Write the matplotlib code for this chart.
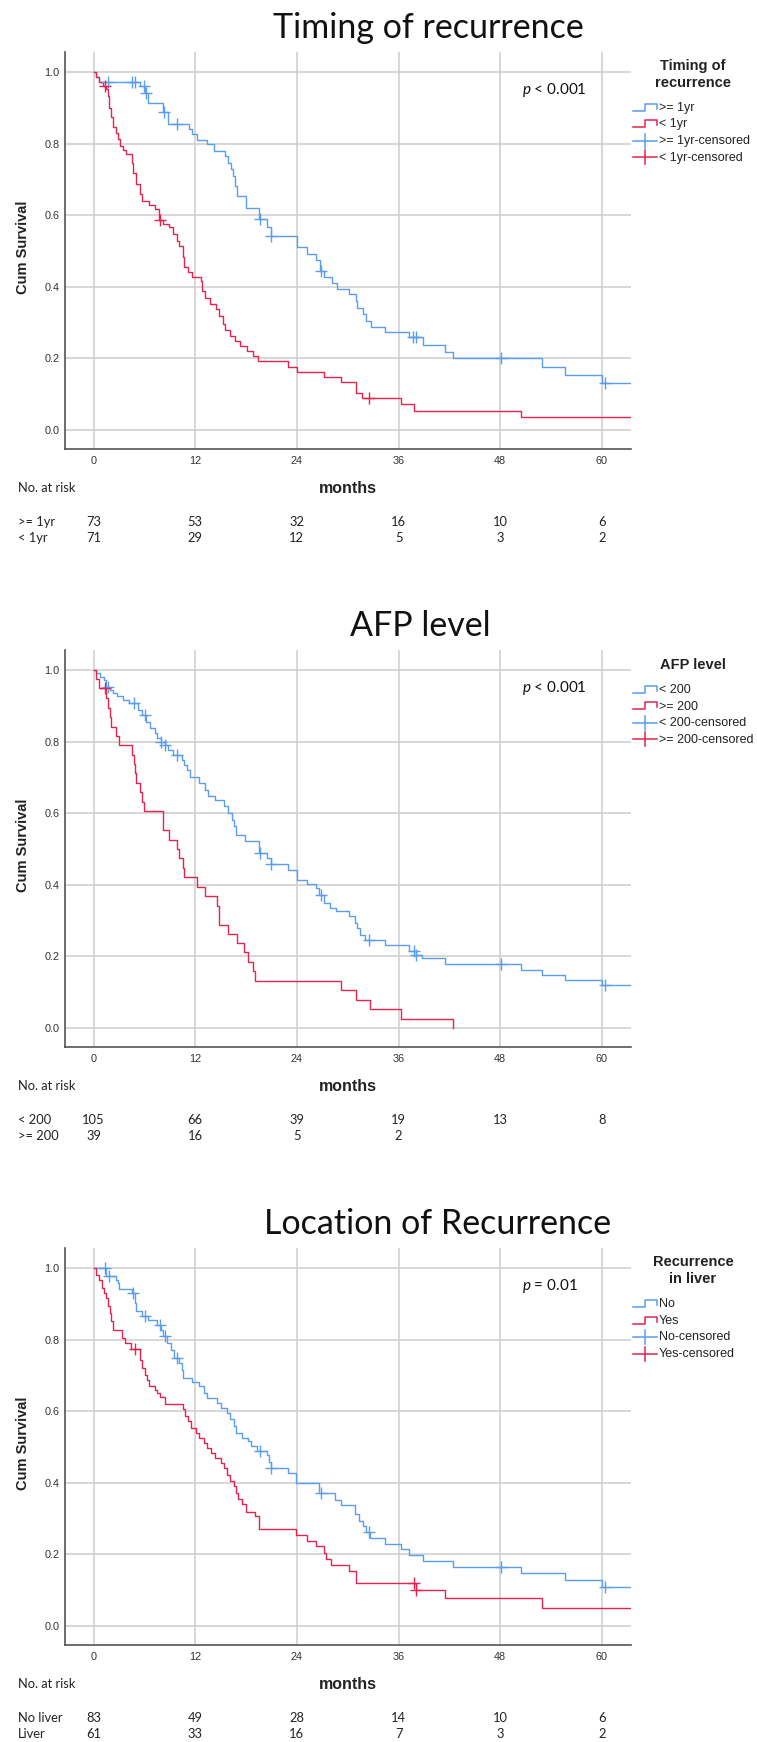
import matplotlib
matplotlib.use("Agg")
import matplotlib.pyplot as plt
from matplotlib import transforms

plt.rcParams['mathtext.fontset'] = 'custom'
plt.rcParams['mathtext.rm'] = 'Lato'
plt.rcParams['mathtext.it'] = 'Lato:italic'

# ---------------- data ----------------
month_ticks = [0, 12, 24, 36, 48, 60]
surv_ticks = [0.0, 0.2, 0.4, 0.6, 0.8, 1.0]

# Panel 1: timing of recurrence
t1_late = [0, 0.3, 0.7, 5.5, 6.05, 6.4, 8.15, 8.8, 11.3, 11.6, 12.2, 13.35, 14.25, 15.55, 15.9,
           16.25, 16.45, 16.7, 16.95, 17.95, 19.55, 20.45, 20.9, 24.0, 25.2, 26.2, 26.7, 27.2,
           28.15, 28.7, 30.15, 31.0, 31.05, 31.75, 32.2, 32.75, 34.45, 37.25, 38.9, 41.5, 42.4,
           52.9, 55.6, 60.0, 70]
s1_late = [1, .986, .972, .961, .942, .914, .887, .856, .840, .826, .809, .798, .779, .766, .747,
           .728, .710, .682, .654, .621, .589, .566, .542, .510, .493, .474, .445, .426, .412,
           .393, .380, .361, .342, .324, .305, .289, .273, .259, .237, .217, .200, .177, .153,
           .131, .131]
c1_late_t = [1.7, 4.6, 4.9, 6.0, 6.2, 8.3, 9.8, 19.6, 21.0, 26.9, 37.65, 38.0, 48.1, 60.3]
c1_late_s = [.972, .972, .972, .961, .942, .887, .856, .589, .542, .445, .259, .259, .200, .131]

t1_early = [0, 0.3, 0.7, 1.1, 1.45, 1.7, 1.8, 2.1, 2.35, 2.7, 2.9, 3.1, 3.5, 3.85, 4.5, 4.7, 5.0,
            5.5, 5.75, 6.5, 7.3, 7.7, 8.15, 8.9, 9.35, 9.8, 10.05, 10.6, 10.7, 11.2, 11.6, 12.65,
            12.85, 13.1, 13.75, 14.5, 14.8, 15.25, 15.55, 16.15, 16.75, 17.3, 18.1, 18.85, 19.4,
            23.0, 24.05, 27.2, 29.25, 30.95, 31.65, 36.25, 37.85, 50.5, 70]
s1_early = [1, .986, .972, .961, .952, .933, .900, .873, .845, .831, .812, .793, .781, .770, .747,
            .719, .687, .659, .640, .629, .617, .586, .575, .566, .547, .528, .514, .482, .454,
            .440, .426, .417, .389, .370, .352, .338, .319, .296, .279, .263, .249, .235, .221,
            .207, .192, .177, .161, .147, .133, .102, .088, .073, .054, .035, .035]
c1_early_t = [1.3, 7.85, 32.5]
c1_early_s = [.961, .586, .088]

# Panel 2: AFP level
t2_low = [0, 0.3, 0.8, 1.2, 1.5, 1.9, 2.35, 2.8, 3.5, 4.15, 5.3, 5.75, 6.2, 6.65, 7.2, 7.55, 7.95,
          8.4, 8.8, 9.35, 10.4, 10.7, 11.0, 11.4, 12.5, 13.1, 13.55, 14.35, 15.45, 15.9, 16.35,
          16.6, 16.8, 17.85, 19.5, 20.45, 20.9, 23.0, 24.0, 25.2, 26.2, 26.55, 27.2, 27.9, 28.6,
          30.15, 30.85, 31.05, 31.5, 32.0, 34.45, 37.25, 38.0, 38.75, 41.5, 50.5, 52.9, 55.6,
          60.0, 70]
s2_low = [1, .991, .981, .972, .953, .944, .935, .926, .916, .907, .888, .874, .856, .837, .823,
          .809, .800, .791, .777, .763, .749, .735, .721, .702, .684, .665, .647, .637, .619,
          .600, .581, .563, .540, .521, .488, .474, .458, .442, .414, .402, .391, .372, .349,
          .335, .326, .312, .293, .279, .260, .247, .233, .214, .205, .195, .179, .163, .149,
          .133, .119, .119]
c2_low_t = [1.7, 4.75, 6.05, 8.0, 8.45, 9.8, 19.6, 21.0, 26.9, 32.45, 37.85, 38.1, 48.1, 60.3]
c2_low_s = [.953, .907, .874, .800, .791, .763, .488, .458, .372, .247, .214, .205, .179, .119]

t2_high = [0, 0.3, 0.7, 1.45, 1.7, 1.9, 2.1, 2.7, 3.0, 4.5, 4.75, 4.9, 5.05, 5.5, 5.75, 5.95, 8.2,
           8.9, 9.8, 10.05, 10.6, 10.7, 12.2, 13.1, 14.55, 14.8, 15.85, 16.95, 17.7, 18.2, 18.85,
           19.1, 29.25, 30.95, 32.65, 36.25, 42.4]
s2_high = [1, .975, .950, .922, .895, .868, .842, .816, .790, .763, .737, .711, .684, .658, .632,
           .605, .553, .526, .500, .474, .447, .421, .395, .368, .342, .289, .263, .237, .211,
           .184, .158, .132, .105, .079, .053, .026, 0.0]
c2_high_t = [1.3]
c2_high_s = [.950]

# Panel 3: location of recurrence
t3_no = [0, 1.45, 2.6, 2.9, 3.0, 4.6, 4.85, 5.05, 5.75, 6.4, 7.55, 8.0, 8.2, 8.7, 9.1, 9.5, 10.05,
         10.5, 10.6, 11.6, 12.5, 13.0, 13.4, 14.55, 15.0, 15.7, 16.15, 16.6, 16.8, 17.5, 18.2,
         18.6, 19.3, 20.45, 20.65, 20.9, 23.0, 23.95, 26.55, 28.5, 29.25, 30.85, 31.3, 31.75,
         32.2, 32.65, 34.45, 36.25, 37.2, 38.9, 42.4, 50.5, 55.6, 60.0, 70]
s3_no = [1, .979, .966, .958, .940, .930, .902, .879, .865, .856, .842, .828, .809, .791, .772,
         .749, .735, .716, .693, .681, .670, .651, .637, .623, .609, .595, .577, .558, .540,
         .526, .516, .502, .488, .479, .458, .442, .428, .400, .372, .353, .337, .312, .293,
         .279, .262, .247, .230, .214, .198, .181, .165, .147, .128, .110, .110]
c3_no_t = [1.3, 1.8, 4.65, 6.05, 7.85, 8.45, 9.8, 19.6, 21.0, 26.9, 32.55, 48.1, 60.3]
c3_no_s = [1.0, .979, .930, .865, .842, .809, .749, .488, .442, .372, .262, .165, .110]

t3_yes = [0, 0.3, 0.7, 1.0, 1.2, 1.45, 1.7, 1.9, 2.1, 2.35, 3.35, 3.7, 4.4, 5.5, 5.75, 6.05, 6.3,
          6.5, 7.2, 7.55, 7.85, 8.45, 10.6, 10.85, 11.2, 11.5, 12.1, 12.4, 13.0, 13.4, 13.9,
          14.35, 15.0, 15.45, 15.7, 16.15, 16.6, 16.8, 17.05, 17.5, 17.95, 19.1, 19.55, 23.95,
          25.2, 26.2, 27.15, 27.45, 28.05, 30.15, 30.95, 38.1, 41.5, 52.9, 70]
s3_yes = [1, .981, .966, .944, .930, .916, .893, .874, .851, .826, .805, .791, .775, .744, .721,
          .702, .688, .671, .658, .651, .640, .621, .605, .586, .572, .553, .540, .526, .512,
          .498, .484, .470, .456, .442, .423, .405, .391, .372, .355, .340, .319, .307, .272,
          .253, .237, .223, .205, .186, .170, .153, .121, .100, .077, .051, .051]
c3_yes_t = [4.85, 37.85, 38.1]
c3_yes_s = [.775, .121, .100]

titles = ['Timing of recurrence', 'AFP level', 'Location of Recurrence']
legend_titles = ['Timing of\nrecurrence', 'AFP level', 'Recurrence\nin liver']
legend_labels = [['>= 1yr', '< 1yr', '>= 1yr-censored', '< 1yr-censored'],
                 ['< 200', '>= 200', '< 200-censored', '>= 200-censored'],
                 ['No', 'Yes', 'No-censored', 'Yes-censored']]
p_texts = [r'$p$ < 0.001', r'$p$ < 0.001', r'$p$ = 0.01']
risk_rows = [['>= 1yr', '< 1yr'], ['< 200', '>= 200'], ['No liver', 'Liver']]
risk1 = [[73, 53, 32, 16, 10, 6], [71, 29, 12, 5, 3, 2]]
risk2 = [[105, 66, 39, 19, 13, 8], [39, 16, 5, 2]]
risk3 = [[83, 49, 28, 14, 10, 6], [61, 33, 16, 7, 3, 2]]

panels = [
    (t1_late, s1_late, c1_late_t, c1_late_s, t1_early, s1_early, c1_early_t, c1_early_s, risk1),
    (t2_low, s2_low, c2_low_t, c2_low_s, t2_high, s2_high, c2_high_t, c2_high_s, risk2),
    (t3_no, s3_no, c3_no_t, c3_no_s, t3_yes, s3_yes, c3_yes_t, c3_yes_s, risk3),
]

BLUE = '#5b9def'
RED = '#e3244f'

# ---------------- layout (pixels) ----------------
W, H = 757, 1742
fig = plt.figure(figsize=(W / 100, H / 100), dpi=100)
ov = fig.add_axes([0, 0, 1, 1], zorder=5)
ov.set_xlim(0, W)
ov.set_ylim(H, 0)
ov.axis('off')

X_LEFT, X_RIGHT = 65, 631
X0_PX, PX_PER_MONTH = 93.5, 8.475
PX_PER_UNIT = 358
SANS = 'Liberation Sans'
title_x = [428, 420, 438]

for k, (ta, sa, cta, csa, tb, sb, ctb, csb, risk) in enumerate(panels):
    y0 = 72 + 598 * k
    top, bot = y0 - 20, y0 + 377
    ax = fig.add_axes([X_LEFT / W, 1 - bot / H, (X_RIGHT - X_LEFT) / W, (bot - top) / H])
    ax.set_xlim((X_LEFT - X0_PX) / PX_PER_MONTH, (X_RIGHT - X0_PX) / PX_PER_MONTH)
    ax.set_ylim(-(bot - y0 - PX_PER_UNIT) / PX_PER_UNIT, 1 + (y0 - top) / PX_PER_UNIT)

    ax.step(ta, sa, where='post', color=BLUE, lw=1.0, zorder=3)
    ax.step(tb, sb, where='post', color=RED, lw=1.0, zorder=3)
    ax.plot(cta, csa, ls='none', marker='+', ms=8, mew=1.0, color=BLUE, zorder=4)
    ax.plot(ctb, csb, ls='none', marker='+', ms=8, mew=1.0, color=RED, zorder=4)

    ax.set_xticks(month_ticks)
    ax.set_yticks(surv_ticks)
    ax.set_yticklabels([f'{v:.1f}' for v in surv_ticks])
    ax.grid(True, color='#cdcdcd', lw=1.1)
    ax.set_axisbelow(True)
    for side in ['top', 'right']:
        ax.spines[side].set_visible(False)
    for side in ['left', 'bottom']:
        ax.spines[side].set_color('#555555')
        ax.spines[side].set_linewidth(1.2)
    ax.tick_params(axis='both', length=0, labelsize=7.8, labelcolor='#333333')
    ax.tick_params(axis='x', pad=5)
    ax.tick_params(axis='y', pad=4)
    for lab in ax.get_xticklabels() + ax.get_yticklabels():
        lab.set_family(SANS)

    # titles and labels
    ov.text(title_x[k], y0 - 34, titles[k], fontsize=24.5, family='Lato', ha='center',
            va='baseline', color='#111111')
    ov.text(23, y0 + 175, 'Cum Survival', rotation=90, fontsize=10.5, fontweight='bold',
            family=SANS, ha='center', va='center', color='#222222')
    ov.text(348, y0 + 416, 'months', fontsize=11.5, fontweight='bold', family=SANS,
            ha='center', va='center', color='#222222')
    ov.text(522, y0 + 18, p_texts[k], fontsize=11, family='Lato', ha='left', va='center',
            color='#111111')

    # legend
    lines = legend_titles[k].split('\n')
    if len(lines) == 2:
        ov.text(693, y0 - 6, lines[0], fontsize=10.5, fontweight='bold', family=SANS,
                ha='center', va='center', color='#222222')
        ov.text(693, y0 + 11, lines[1], fontsize=10.5, fontweight='bold', family=SANS,
                ha='center', va='center', color='#222222')
        iy = y0 + 36
    else:
        ov.text(693, y0 - 5, lines[0], fontsize=10.5, fontweight='bold', family=SANS,
                ha='center', va='center', color='#222222')
        iy = y0 + 20
    for i, lab in enumerate(legend_labels[k]):
        yy = iy + 16.5 * i
        col = BLUE if i % 2 == 0 else RED
        if i < 2:
            ov.plot([633, 645, 645, 657, 657], [yy + 3, yy + 3, yy - 4, yy - 4, yy + 1],
                    color=col, lw=1.1)
        else:
            ov.plot([633, 657], [yy, yy], color=col, lw=1.1)
            ov.plot([645, 645], [yy - 7, yy + 7], color=col, lw=1.1)
        ov.text(659, yy, lab, fontsize=9, family=SANS, ha='left', va='center',
                color='#222222')

    # number at risk table
    ov.text(18, y0 + 416, 'No. at risk', fontsize=9.3, family='Lato', ha='left', va='center',
            color='#222222')
    blend = transforms.blended_transform_factory(ax.transData, ov.transData)
    for r, (name, counts) in enumerate(zip(risk_rows[k], risk)):
        yy = y0 + 450 + 16 * r
        ov.text(18, yy, name, fontsize=9.3, family='Lato', ha='left', va='center',
                color='#222222')
        for m, n in zip(month_ticks, counts):
            ov.text(m, yy, str(n), fontsize=9.3, family='Lato', ha='center', va='center',
                    color='#222222', transform=blend)

fig.savefig('out.png', dpi=100)
